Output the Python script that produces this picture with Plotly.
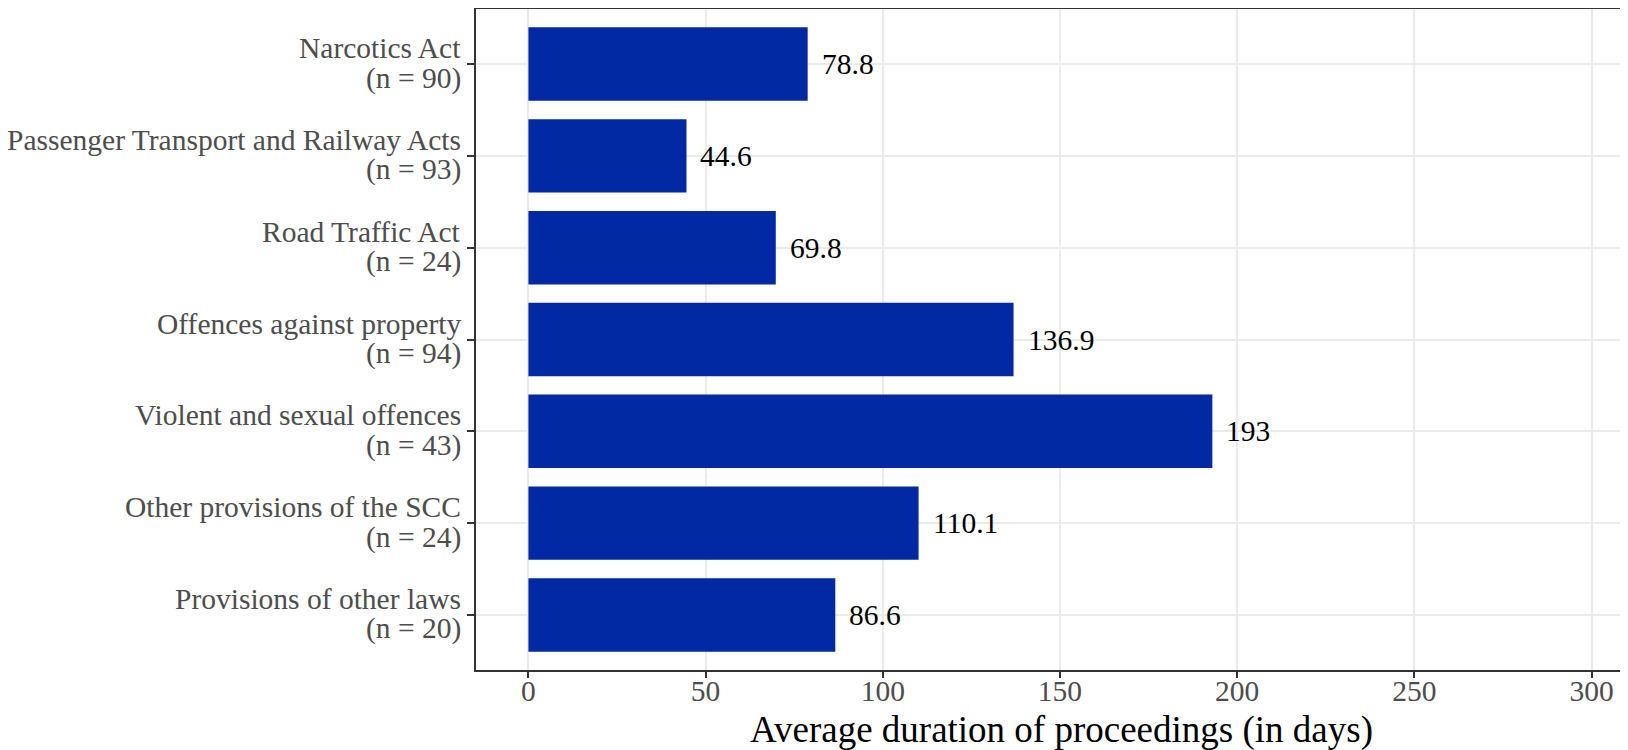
import plotly.graph_objects as go

categories = [
    "Narcotics Act",
    "Passenger Transport and Railway Acts",
    "Road Traffic Act",
    "Offences against property",
    "Violent and sexual offences",
    "Other provisions of the SCC",
    "Provisions of other laws",
]
n_counts = [90, 93, 24, 94, 43, 24, 20]
values = [78.8, 44.6, 69.8, 136.9, 193, 110.1, 86.6]
value_labels = ["78.8", "44.6", "69.8", "136.9", "193", "110.1", "86.6"]
x_ticks = [0, 50, 100, 150, 200, 250, 300]
x_title = "Average duration of proceedings (in days)"

FONT = "Liberation Serif"
GREY = "#4D4D4D"

fig = go.Figure()
fig.add_trace(go.Bar(
    x=values, y=categories, orientation="h",
    width=0.8, marker=dict(color="#0029A3", line=dict(width=0)),
    hoverinfo="skip",
))

for v, c, t in zip(values, categories, value_labels):
    fig.add_annotation(x=v, y=c, text=t, showarrow=False,
                       xanchor="left", yanchor="middle", xshift=12,
                       font=dict(family=FONT, size=29.5, color="black"))

# two-line y tick labels (category name and sample size)
for c, n in zip(categories, n_counts):
    fig.add_annotation(x=0, xref="paper", y=c, text=c, showarrow=False,
                       xanchor="right", yanchor="middle", xshift=-13, yshift=16,
                       font=dict(family=FONT, size=29.5, color=GREY))
    fig.add_annotation(x=0, xref="paper", y=c, text=f"(n = {n})", showarrow=False,
                       xanchor="right", yanchor="middle", xshift=-13, yshift=-14,
                       font=dict(family=FONT, size=29.5, color=GREY))

fig.add_annotation(x=0.508, y=0, xref="paper", yref="paper", text=x_title,
                   showarrow=False, xanchor="center", yanchor="middle", yshift=-60,
                   font=dict(family=FONT, size=37, color="black"))

# page body has an 8px margin, so the figure is offset by (8, 8)
fig.update_layout(
    width=1620, height=742,
    margin=dict(l=468, r=0, t=1, b=80),
    paper_bgcolor="white", plot_bgcolor="white",
    showlegend=False,
    font=dict(family=FONT),
    xaxis=dict(
        range=[-14.8, 310.3], automargin=False,
        tickvals=x_ticks, ticktext=[str(t) for t in x_ticks],
        tickfont=dict(family=FONT, size=29.5, color=GREY),
        ticks="outside", ticklen=6, tickwidth=1.5, tickcolor="#333333",
        ticklabelstandoff=-12,
        showgrid=True, gridcolor="#EBEBEB", gridwidth=1.5,
        showline=True, linecolor="#333333", linewidth=1.5, mirror=True,
        zeroline=False,
    ),
    yaxis=dict(
        categoryorder="array", categoryarray=categories,
        range=[6.6, -0.6], automargin=False,
        showticklabels=False,
        ticks="outside", ticklen=7, tickwidth=1.5, tickcolor="#333333",
        showgrid=True, gridcolor="#EBEBEB", gridwidth=1.5,
        showline=True, linecolor="#333333", linewidth=1.5, mirror=False,
        zeroline=False,
    ),
)

fig.write_html("out.html")
